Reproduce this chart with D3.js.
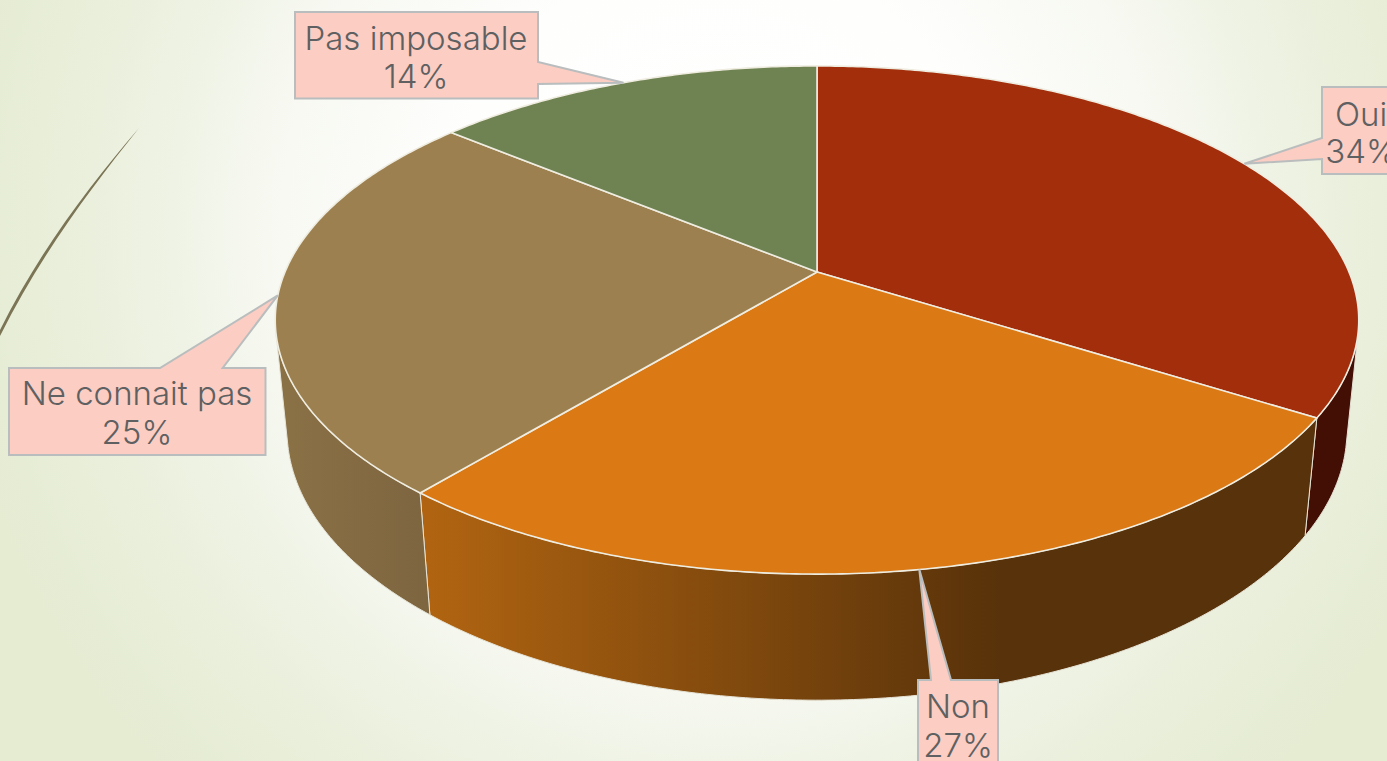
<!DOCTYPE html>
<html>
<head>
<meta charset="utf-8">
<script src="https://cdnjs.cloudflare.com/ajax/libs/d3/7.8.5/d3.min.js"></script>
<style>
html, body { margin: 0; padding: 0; overflow: hidden; background: #e8eed8; }
text { font-family: Inter, Lato, sans-serif; font-weight: 300; font-size: 33px; fill: #5e6061; text-anchor: middle; }
</style>
</head>
<body>
<div id="chart"></div>
<script>
//chart data
var categories = ["Oui", "Non", "Ne connait pas", "Pas imposable"];
var values = [34, 27, 25, 14];
var topColors = ["#a32e0c", "#db7915", "#9d8050", "#6f8352"];
var wallColors = [
    ["#430f04", "#430f04"],
    ["#b06411", "#58320a"],
    ["#8a7045", "#7d6540"],
    ["#4f5e3a", "#4f5e3a"]
];

//svg area
var svgWidth = 1387;
var svgHeight = 761;

//perspective of the disc, fitted on the picture
var hub = {x: 817, y: 272};
var radiusX = 532;
var radiusY = 245;
var tilt = 0.189;
var depthW = 0.0216;
var depthY = 111.5;

//t=0 is the top face, t=1 is the bottom face
function project(angle, t) {
    var w = 1 + tilt * Math.cos(angle) + depthW * t;
    return [
        hub.x + radiusX * Math.sin(angle) / w,
        hub.y + (-radiusY * Math.cos(angle) + depthY * t) / w
    ];
}

function anglesBetween(a0, a1) {
    var n = Math.ceil(Math.abs(a1 - a0) / 0.01);
    return d3.range(n + 1).map(function(i) {
        return a0 + (a1 - a0) * i / n;
    });
}

//is the wall at this angle turned to the viewer?
function facesViewer(angle) {
    var e = 0.001;
    var p0 = project(angle - e, 0);
    var p1 = project(angle + e, 0);
    var p = project(angle, 0);
    var q = project(angle, 1);
    return (p1[0] - p0[0]) * (q[1] - p[1]) - (p1[1] - p0[1]) * (q[0] - p[0]) < 0;
}

var svg = d3.select("#chart")
    .append("svg")
    .attr("width", svgWidth)
    .attr("height", svgHeight)
    .style("display", "block");

var defs = svg.append("defs");

//background
var bg = defs.append("radialGradient")
    .attr("id", "bg")
    .attr("gradientUnits", "userSpaceOnUse")
    .attr("cx", 720).attr("cy", 230).attr("r", 780);
[[0, "#ffffff"], [0.35, "#fefefd"], [0.6, "#f6f8f0"], [0.7, "#eff3e5"], [0.88, "#e8eed8"], [1, "#e5ecd2"]]
    .forEach(function(s) {
        bg.append("stop").attr("offset", s[0]).attr("stop-color", s[1]);
    });

svg.append("rect")
    .attr("width", svgWidth)
    .attr("height", svgHeight)
    .attr("fill", "url(#bg)");

//thin tapered curve on the left
svg.append("path")
    .attr("d", "M139,128 C90,185 40,250 0,330 L0,336 C41,254 92,187 139,128 Z")
    .attr("fill", "#7b7455");

var line = d3.line();

var pie = d3.pie().sort(null).startAngle(0).endAngle(2 * Math.PI);
var slices = pie(values);

//side walls first
wallColors.forEach(function(c, i) {
    var grad = defs.append("linearGradient")
        .attr("id", "wall" + i)
        .attr("gradientUnits", "userSpaceOnUse")
        .attr("x1", i === 1 ? 430 : 290).attr("x2", i === 1 ? 1000 : 430)
        .attr("y1", 0).attr("y2", 0);
    grad.append("stop").attr("offset", "0").attr("stop-color", c[0]);
    grad.append("stop").attr("offset", "1").attr("stop-color", c[1]);
});

svg.selectAll(".wall")
    .data(slices)
    .enter()
    .append("path")
    .attr("class", "wall")
    .attr("d", function(d) {
        var angles = anglesBetween(d.startAngle, d.endAngle).filter(facesViewer);
        if (angles.length < 2) return null;
        var top = angles.map(function(a) { return project(a, 0); });
        var bottom = angles.slice().reverse().map(function(a) { return project(a, 1); });
        return line(top.concat(bottom)) + "Z";
    })
    .attr("fill", function(d, i) { return "url(#wall" + i + ")"; })
    .attr("stroke", "#e6e3d6")
    .attr("stroke-width", 1);

//top face
svg.selectAll(".slice")
    .data(slices)
    .enter()
    .append("path")
    .attr("class", "slice")
    .attr("d", function(d) {
        var rim = anglesBetween(d.startAngle, d.endAngle).map(function(a) { return project(a, 0); });
        return line([[hub.x, hub.y]].concat(rim)) + "Z";
    })
    .attr("fill", function(d, i) { return topColors[i]; })
    .attr("stroke", "#efece0")
    .attr("stroke-width", 1.6)
    .attr("stroke-linejoin", "round");

//callouts, the tip sits on the rim at the middle of the slice
var callouts = [
    {x0: 1322, y0: 87, x1: 1400, y1: 174, side: "left", a: 138, b: 159, tx: 1361, ty: [126, 163]},
    {x0: 918, y0: 680, x1: 998, y1: 767, side: "top", a: 931, b: 951, tx: 958, ty: [718, 757]},
    {x0: 9, y0: 368, x1: 265.5, y1: 455, side: "top", a: 160, b: 222.7, tx: 137, ty: [405, 444]},
    {x0: 295, y0: 12, x1: 538, y1: 98.5, side: "right", a: 62, b: 84, tx: 416, ty: [50, 88]}
];

function calloutPath(c, tip) {
    var pts;
    if (c.side === "top") {
        pts = [[c.x0, c.y0], [c.a, c.y0], tip, [c.b, c.y0], [c.x1, c.y0], [c.x1, c.y1], [c.x0, c.y1]];
    } else if (c.side === "left") {
        pts = [[c.x0, c.y0], [c.x1, c.y0], [c.x1, c.y1], [c.x0, c.y1], [c.x0, c.b], tip, [c.x0, c.a]];
    } else {
        pts = [[c.x0, c.y0], [c.x1, c.y0], [c.x1, c.a], tip, [c.x1, c.b], [c.x1, c.y1], [c.x0, c.y1]];
    }
    return line(pts) + "Z";
}

var labels = svg.selectAll(".callout")
    .data(slices)
    .enter()
    .append("g")
    .attr("class", "callout");

labels.append("path")
    .attr("d", function(d, i) {
        var mid = (d.startAngle + d.endAngle) / 2;
        return calloutPath(callouts[i], project(mid, 0));
    })
    .attr("fill", "#fbcdc3")
    .attr("stroke", "#b9bdbd")
    .attr("stroke-width", 2);

labels.append("text")
    .attr("x", function(d, i) { return callouts[i].tx; })
    .attr("y", function(d, i) { return callouts[i].ty[0]; })
    .text(function(d, i) { return categories[i]; });

labels.append("text")
    .attr("x", function(d, i) { return callouts[i].tx; })
    .attr("y", function(d, i) { return callouts[i].ty[1]; })
    .text(function(d) { return d.value + "%"; });
</script>
</body>
</html>
